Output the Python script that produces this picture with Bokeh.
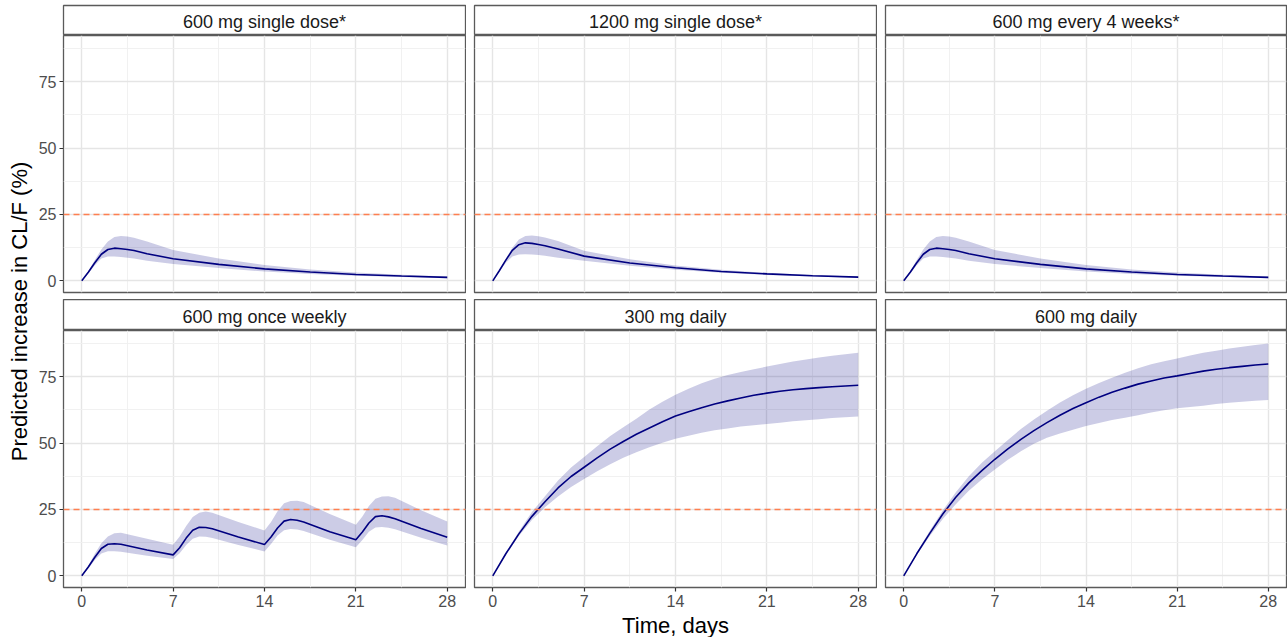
import math
from bokeh.plotting import figure
from bokeh.layouts import row, column
from bokeh.models import Range1d, FixedTicker, Span
from bokeh.core.properties import value
from bokeh.embed import file_html
from bokeh.resources import INLINE

# ---------------- data ----------------
panel_titles = ["600 mg single dose*", "1200 mg single dose*", "600 mg every 4 weeks*",
                "600 mg once weekly", "300 mg daily", "600 mg daily"]
x_label = "Time, days"
y_label = "Predicted increase in CL/F (%)"
threshold = 25
x_ticks = [0, 7, 14, 21, 28]
x_minor = [3.5, 10.5, 17.5, 24.5]
y_ticks = [0, 25, 50, 75]
y_minor = [12.5, 37.5, 62.5, 87.5]

# single-dose style profiles
t_single = [0, 0.5, 1, 1.5, 2, 2.5, 3, 3.5, 4, 5, 7, 10.5, 14, 17.5, 21, 24.5, 28]
med_600sd = [0, 3.2, 6.8, 10.0, 11.8, 12.3, 12.1, 11.8, 11.4, 10.2, 8.3, 6.2, 4.5, 3.3, 2.4, 1.8, 1.3]
hi_600sd = [0, 3.6, 7.8, 11.8, 14.8, 16.5, 16.9, 16.7, 16.2, 14.8, 11.6, 8.4, 6.0, 4.3, 3.1, 2.3, 1.6]
lo_600sd = [0, 2.8, 5.9, 8.4, 9.2, 9.2, 9.0, 8.7, 8.4, 7.6, 6.3, 4.8, 3.5, 2.6, 1.9, 1.4, 1.0]

med_1200sd = [0, 3.8, 7.8, 11.5, 13.6, 14.3, 14.1, 13.7, 13.2, 12.0, 9.3, 6.7, 4.9, 3.5, 2.6, 1.9, 1.4]
hi_1200sd = [0, 4.0, 8.3, 12.5, 15.6, 16.9, 17.1, 16.8, 16.3, 15.0, 11.3, 8.1, 5.8, 4.2, 3.0, 2.2, 1.6]
lo_1200sd = [0, 3.4, 6.8, 9.2, 9.9, 10.0, 9.9, 9.7, 9.4, 8.7, 7.6, 5.7, 4.2, 3.0, 2.2, 1.6, 1.2]

med_600q4w = [0, 3.2, 6.8, 10.0, 11.8, 12.3, 12.1, 11.8, 11.4, 10.2, 8.3, 6.2, 4.5, 3.3, 2.4, 1.8, 1.3]
hi_600q4w = [0, 3.6, 7.8, 11.8, 14.8, 16.5, 16.9, 16.7, 16.2, 14.8, 11.6, 8.4, 6.0, 4.3, 3.1, 2.3, 1.6]
lo_600q4w = [0, 2.8, 5.9, 8.4, 9.2, 9.2, 9.0, 8.7, 8.4, 7.6, 6.3, 4.8, 3.5, 2.6, 1.9, 1.4, 1.0]

# once weekly
t_weekly = [0, 0.5, 1, 1.5, 2, 2.5, 3, 5, 7,
            7.5, 8, 8.5, 9, 9.5, 10, 12, 14,
            14.5, 15, 15.5, 16, 16.5, 17, 19, 21,
            21.5, 22, 22.5, 23, 23.5, 24, 26, 28]
med_600qw = [0, 3.3, 7.0, 10.3, 11.9, 12.1, 11.9, 9.7, 7.9,
             10.6, 14.2, 17.2, 18.3, 18.2, 17.7, 14.6, 11.8,
             14.6, 18.0, 20.6, 21.2, 20.9, 20.3, 16.6, 13.6,
             16.5, 19.9, 22.3, 22.6, 22.2, 21.5, 17.8, 14.5]
hi_600qw = [0, 3.8, 8.3, 12.3, 14.8, 16.0, 16.2, 14.0, 11.7,
            14.8, 18.8, 22.2, 23.8, 24.2, 23.8, 20.3, 17.1,
            20.3, 24.3, 27.3, 28.2, 28.3, 27.8, 23.3, 19.2,
            22.3, 26.3, 29.0, 29.9, 30.0, 29.4, 24.7, 20.5]
lo_600qw = [0, 2.8, 6.0, 8.4, 9.3, 9.3, 9.1, 7.6, 6.3,
            8.5, 11.6, 14.0, 14.8, 14.7, 14.2, 11.6, 9.2,
            12.0, 15.2, 17.2, 17.6, 17.4, 16.9, 13.6, 10.8,
            13.5, 16.6, 18.2, 18.4, 18.1, 17.5, 14.3, 11.4]

# daily dosing (values read at each day)
t_daily = list(range(0, 29))
med_300qd = [0, 8.3, 15.8, 22.4, 27.9, 33.1, 37.4, 40.9, 44.4, 47.7, 50.6, 53.3, 55.7, 58.0, 60.2,
             61.8, 63.3, 64.7, 65.9, 67.0, 68.0, 68.8, 69.5, 70.1, 70.5, 70.9, 71.2, 71.5, 71.8]
hi_300qd = [0, 8.7, 16.7, 24.0, 30.0, 35.9, 40.8, 44.8, 48.8, 52.7, 56.0, 59.2, 62.6, 65.6, 68.2,
            70.5, 72.5, 74.2, 75.6, 76.8, 77.8, 78.8, 79.8, 80.7, 81.5, 82.2, 82.9, 83.5, 84.0]
lo_300qd = [0, 7.9, 15.0, 21.0, 25.8, 29.9, 33.5, 36.5, 39.4, 42.0, 44.5, 46.5, 48.4, 50.1, 51.6,
            52.8, 53.9, 54.8, 55.5, 56.2, 56.7, 57.2, 57.7, 58.2, 58.6, 59.0, 59.4, 59.7, 60.0]

med_600qd = [0, 8.3, 16.0, 23.3, 29.6, 35.0, 39.6, 43.9, 47.8, 51.4, 54.7, 57.7, 60.5, 63.0, 65.2,
             67.3, 69.1, 70.7, 72.2, 73.4, 74.5, 75.3, 76.2, 77.1, 77.8, 78.4, 78.9, 79.4, 79.8]
hi_600qd = [0, 8.8, 17.0, 24.6, 31.5, 37.5, 42.6, 46.9, 51.2, 55.3, 58.9, 62.2, 65.3, 68.0, 70.5,
            72.6, 74.6, 76.5, 78.2, 79.7, 80.8, 81.9, 83.0, 84.0, 84.8, 85.6, 86.3, 86.9, 87.5]
lo_600qd = [0, 7.8, 15.0, 21.4, 27.0, 32.0, 36.3, 40.0, 43.7, 46.9, 49.7, 52.0, 53.6, 55.0, 56.4,
            57.6, 58.7, 59.5, 60.5, 61.5, 62.4, 63.1, 63.6, 64.1, 64.7, 65.2, 65.6, 65.9, 66.2]

panels = [
    (t_single, med_600sd, lo_600sd, hi_600sd),
    (t_single, med_1200sd, lo_1200sd, hi_1200sd),
    (t_single, med_600q4w, lo_600q4w, hi_600q4w),
    (t_weekly, med_600qw, lo_600qw, hi_600qw),
    (t_daily, med_300qd, lo_300qd, hi_300qd),
    (t_daily, med_600qd, lo_600qd, hi_600qd),
]

# ---------------- style / layout ----------------
FONT = "Liberation Sans"
YLAB_W = 34
FRAME_W = [402, 402, 401]
BORDER_L = [63 - YLAB_W, 8, 8]
TOP_PAD = 5
STRIP_H = [30, 31]
PANEL_H = 257
ROW_GAP = 7
XAX = 26
XLAB_H = 24
BORDER = "#5a5a5a"
NAVY = "#000080"


def base_fig(w, h, xr, yr, **kw):
    p = figure(width=w, height=h, x_range=xr, y_range=yr, toolbar_location=None,
               output_backend="svg", **kw)
    p.background_fill_color = "white"
    p.border_fill_color = "white"
    return p


def strip_fig(title, col, rowi):
    bl = BORDER_L[col]
    top = TOP_PAD if rowi == 0 else 0
    p = base_fig(bl + FRAME_W[col] + 1, STRIP_H[rowi] + top, Range1d(0, 1), Range1d(0, 1),
                 x_axis_location=None, y_axis_location=None,
                 min_border_left=bl, min_border_right=1, min_border_top=top, min_border_bottom=0)
    p.grid.visible = False
    p.outline_line_color = BORDER
    p.outline_line_width = 1.3
    p.text(x=[0.5], y=[0.45], text=[title], text_align="center", text_baseline="middle",
           text_font=value(FONT), text_font_size="18px", text_color="#1a1a1a")
    return p


def panel_fig(data, col, bottom):
    t, med, lo, hi = data
    left = col == 0
    bl = BORDER_L[col]
    bb = XAX if bottom else ROW_GAP
    p = base_fig(bl + FRAME_W[col] + 1, PANEL_H + bb, Range1d(-1.4, 29.4), Range1d(-4.4, 92.4),
                 x_axis_location="below" if bottom else None,
                 y_axis_location="left" if left else None,
                 min_border_left=bl, min_border_right=1, min_border_top=0, min_border_bottom=bb)
    p.outline_line_color = BORDER
    p.outline_line_width = 1.3
    p.xgrid.ticker = FixedTicker(ticks=x_ticks, minor_ticks=x_minor)
    p.ygrid.ticker = FixedTicker(ticks=y_ticks, minor_ticks=y_minor)
    p.grid.grid_line_color = "#E5E5E5"
    p.grid.grid_line_width = 1.4
    p.grid.minor_grid_line_color = "#EFEFEF"
    p.grid.minor_grid_line_width = 0.9
    for ax in list(p.xaxis) + list(p.yaxis):
        ax.axis_line_color = None
        ax.major_tick_line_color = "#333333"
        ax.major_tick_line_width = 1.2
        ax.major_tick_in = 0
        ax.major_tick_out = 4
        ax.minor_tick_line_color = None
        ax.major_label_standoff = 3
        ax.major_label_text_font = FONT
        ax.major_label_text_font_size = "16px"
        ax.major_label_text_color = "#4d4d4d"
    for ax in p.xaxis:
        ax.ticker = FixedTicker(ticks=x_ticks)
    for ax in p.yaxis:
        ax.ticker = FixedTicker(ticks=y_ticks)

    p.varea(x=t, y1=lo, y2=hi, fill_color=NAVY, fill_alpha=0.2)
    p.line(x=t, y=med, line_color=NAVY, line_width=1.6)
    p.add_layout(Span(location=threshold, dimension="width", line_color="#FF7F50",
                      line_width=1.6, line_dash="6 4"))
    return p


cols_top = []
cols_bot = []
for i in range(3):
    cols_top.append(column(strip_fig(panel_titles[i], i, 0),
                           panel_fig(panels[i], i, False)))
for i in range(3):
    cols_bot.append(column(strip_fig(panel_titles[3 + i], i, 1),
                           panel_fig(panels[3 + i], i, True)))

block_h = TOP_PAD + STRIP_H[0] + PANEL_H + ROW_GAP + STRIP_H[1] + PANEL_H + XAX
grid = column(row(*cols_top), row(*cols_bot))

# y-axis title
ylab = base_fig(YLAB_W, block_h, Range1d(0, YLAB_W), Range1d(0, block_h),
                x_axis_location=None, y_axis_location=None,
                min_border_left=0, min_border_right=0, min_border_top=0, min_border_bottom=0)
ylab.grid.visible = False
ylab.outline_line_color = None
area_top = TOP_PAD + STRIP_H[0]
area_bot = TOP_PAD + STRIP_H[0] + PANEL_H + ROW_GAP + STRIP_H[1] + PANEL_H
center_from_top = (area_top + area_bot) / 2.0
ylab.text(x=[19], y=[block_h - center_from_top], text=[y_label], angle=math.pi / 2,
          text_align="center", text_baseline="middle", text_font=value(FONT),
          text_font_size="22px", text_color="black")

total_w = YLAB_W + sum(BORDER_L) + sum(FRAME_W) + 3
xlab = base_fig(total_w, XLAB_H, Range1d(0, total_w), Range1d(0, 1),
                x_axis_location=None, y_axis_location=None,
                min_border_left=0, min_border_right=0, min_border_top=0, min_border_bottom=0)
xlab.grid.visible = False
xlab.outline_line_color = None
xlab.text(x=[(63 + total_w) / 2.0], y=[0.5], text=[x_label],
          text_align="center", text_baseline="middle", text_font=value(FONT),
          text_font_size="22px", text_color="black")

layout = column(row(ylab, grid), xlab)

open("out.html", "w").write(file_html(layout, INLINE))
